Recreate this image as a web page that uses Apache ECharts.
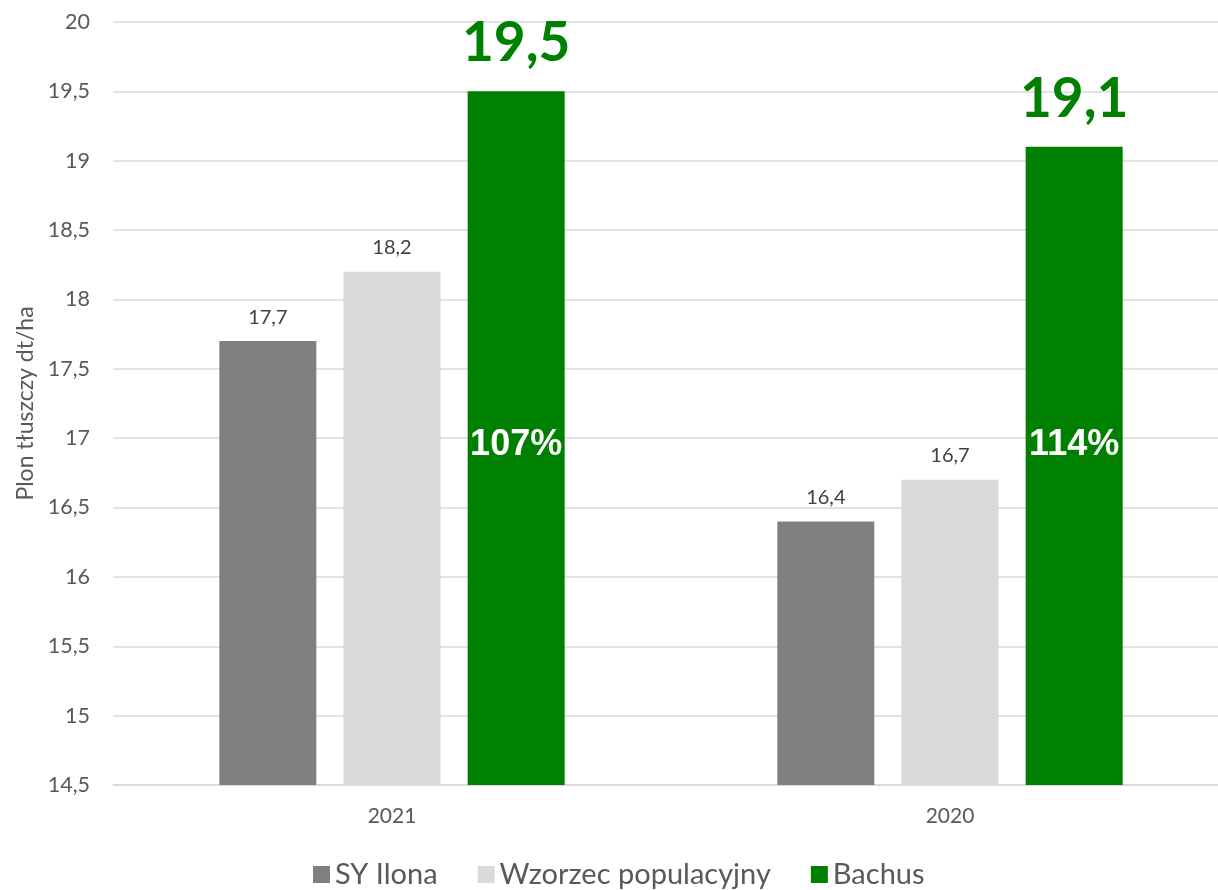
<!DOCTYPE html>
<html>
<head>
<meta charset="utf-8">
<script src="https://cdn.jsdelivr.net/npm/echarts@6/dist/echarts.min.js"></script>
<style>html,body{margin:0;padding:0;background:#fff}#c{width:1218px;height:890px}</style>
</head>
<body>
<div id="c"></div>
<script>
var categories = ['2021', '2020'];
var syIlona = [17.7, 16.4];
var wzorzec = [18.2, 16.7];
var bachus = [19.5, 19.1];
var bachusPct = ['107%', '114%'];
var seriesNames = ['SY Ilona', 'Wzorzec populacyjny', 'Bachus'];

function fmt(v) { return String(v).replace('.', ','); }

var FONT = 'Lato';
var TXT = '#595959';

var chart = echarts.init(document.getElementById('c'));
chart.setOption({
  animation: false,
  grid: { left: 113, width: 1116, top: 22, bottom: 105, outerBoundsMode: 'none', containLabel: false },
  legend: {
    top: 855,
    left: 308,
    itemWidth: 17, itemHeight: 17, itemGap: 40,
    icon: 'rect',
    data: seriesNames,
    textStyle: { fontFamily: FONT, fontSize: 29, color: TXT }
  },
  xAxis: {
    type: 'category',
    data: categories,
    axisTick: { show: false },
    axisLine: { lineStyle: { color: '#d9d9d9', width: 1.5 } },
    axisLabel: { fontFamily: FONT, fontSize: 21, color: TXT, margin: 21 }
  },
  yAxis: {
    type: 'value',
    min: 14.5, max: 20, interval: 0.5,
    name: 'Plon tłuszczy dt/ha',
    nameLocation: 'middle',
    nameGap: 76,
    nameTextStyle: { fontFamily: FONT, fontSize: 23, color: TXT },
    axisLine: { show: false },
    axisTick: { show: false },
    splitLine: { lineStyle: { color: '#d9d9d9', width: 1.5 } },
    axisLabel: { fontFamily: FONT, fontSize: 21.5, color: TXT, margin: 23, formatter: function (v) { return fmt(Math.round(v * 10) / 10); } }
  },
  series: [
    {
      name: seriesNames[0], type: 'bar', data: syIlona,
      barWidth: 97, barGap: '28%',
      itemStyle: { color: '#808080' },
      label: { show: true, position: 'top', distance: 14, fontFamily: FONT, fontSize: 20, color: '#404040', formatter: function (p) { return fmt(p.value); } }
    },
    {
      name: seriesNames[1], type: 'bar', data: wzorzec,
      barWidth: 97, barGap: '28%',
      itemStyle: { color: '#d9d9d9' },
      label: { show: true, position: 'top', distance: 14, fontFamily: FONT, fontSize: 20, color: '#404040', formatter: function (p) { return fmt(p.value); } }
    },
    {
      name: seriesNames[2], type: 'bar', data: bachus,
      barWidth: 97, barGap: '28%',
      itemStyle: { color: '#008000' },
      label: {
        show: true, position: 'insideBottom', distance: 322,
        fontFamily: 'Liberation Sans', fontWeight: 'bold', fontSize: 36, color: '#ffffff',
        formatter: function (p) { return bachusPct[p.dataIndex]; }
      },
      markPoint: {
        symbol: 'rect', symbolSize: 1,
        itemStyle: { color: 'rgba(0,0,0,0)' },
        label: {
          show: true, position: 'top', distance: 20,
          fontFamily: FONT, fontWeight: 'bold', fontSize: 55, color: '#008000',
          formatter: function (p) { return fmt(p.value); }
        },
        data: categories.map(function (c, i) { return { coord: [i, bachus[i]], value: bachus[i] }; })
      }
    }
  ]
});
</script>
</body>
</html>
